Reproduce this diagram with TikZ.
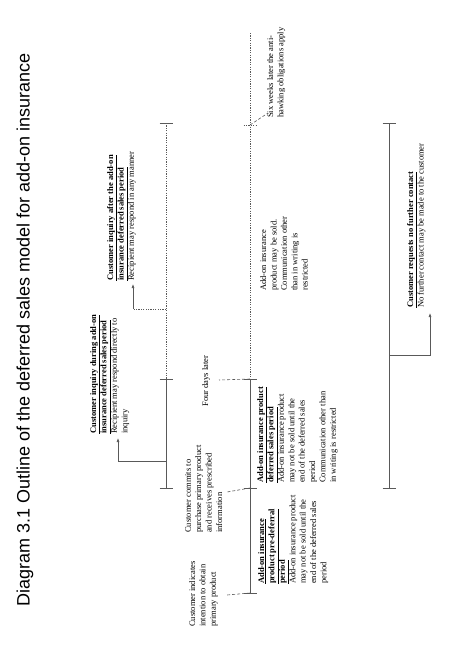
\documentclass[tikz,border=0pt]{standalone}
\usepackage{fontspec}
\setmainfont{Liberation Serif}
\newfontfamily\titlefont{Liberation Sans}
\usetikzlibrary{arrows.meta}
\newcommand{\bu}[1]{\underline{\textbf{#1}}}
\begin{document}
\begin{tikzpicture}[x=1pt,y=-1pt,
  ln/.style={draw=gray!70!black, line width=0.6pt},
  dots/.style={ln, dash pattern=on 1.2pt off 1.2pt},
  lead/.style={ln, dash pattern=on 3pt off 2pt},
  arr/.style={ln, -{Latex[length=4pt,width=3pt]}},
  txt/.style={rotate=90, anchor=north west, inner sep=0pt, align=left,
              font=\fontsize{8.5}{10.4}\selectfont},
]
\useasboundingbox (0,0) rectangle (474,657);
% title
\node[rotate=90, inner sep=0pt, font=\titlefont\fontsize{18}{20}\selectfont] (title) at (25,330)
  {Diagram 3.1 Outline of the deferred sales model for add-on insurance};
% timeline coordinates
\coordinate (a1) at (166,123);
\coordinate (a2) at (166,379);
\coordinate (a3) at (166,488);
\coordinate (b0) at (250,33);
\coordinate (b1) at (250,125);
\coordinate (b2) at (250,379);
\coordinate (b3) at (250,488);
\coordinate (b4) at (250,593);
\coordinate (c1) at (389,123);
\coordinate (c2) at (389,488);
% lines
\draw[dots] (a1) -- (a2);
\draw[ln] (a2) -- (a3);
\draw[dots] (b0) -- (b2);
\draw[ln] (b2) -- (b4);
\draw[ln] (c1) -- (c2);
% ticks
\foreach \p in {a1,a2,a3,b2,b3,b4,c1,c2}
  \draw[ln] ([xshift=-6.5pt]\p) -- ([xshift=6.5pt]\p);
\draw[dots] ([xshift=-6.5pt]b1) -- ([xshift=6.5pt]b1);
% text nodes
\node[txt] (inqd) at (90,434) {\bu{Customer inquiry during add-on}\\
  \bu{insurance deferred sales period}\\
  Recipient may respond directly to\\ inquiry};
\node[txt] (inqa) at (107,281) {\bu{Customer inquiry after the add-on}\\
  \bu{insurance deferred sales period}\\
  Recipient may respond in any manner};
\node[rotate=90, inner sep=0pt, font=\fontsize{8.5}{10.4}\selectfont] (four) at (206,381) {Four days later};
\node[txt] (commit) at (185,533) {Customer commits to\\ purchase primary product\\
  and receives prescribed\\ information};
\node[txt] (intent) at (189,627) {Customer indicates\\ intention to obtain\\ primary product};
\node[txt] (pre) at (258,584) {\bu{Add-on insurance}\\ \bu{product pre-deferral}\\ \bu{period}\\
  Add-on insurance product\\ may not be sold until the\\ end of the deferred sales\\ period};
\node[txt] (def) at (257,483) {\bu{Add-on insurance product}\\ \bu{deferred sales period}\\
  Add-on insurance product\\ may not be sold until the\\ end of the deferred sales\\ period\\
  Communication other than\\ in writing is restricted};
\node[txt] (post) at (260,291) {Add-on insurance\\ product may be sold.\\ Communication other\\
  than in writing is\\ restricted};
\node[txt] (six) at (267,118) {Six weeks later the anti-\\ hawking obligations apply};
\node[txt] (nocon) at (407,308) {\bu{Customer requests no further contact}\\
  No further contact may be made to the customer};
% arrows
\coordinate (ar1) at (166,461);
\coordinate (ar1e) at (118,438);
\draw[arr] (ar1) -| (ar1e);
\coordinate (ar2) at (166,309);
\coordinate (ar2k) at (133,309);
\coordinate (ar2e) at (133,284);
\draw[dots] (ar2) -- (ar2k);
\draw[arr] (ar2k) -- (ar2e);
\coordinate (ar3) at (389,355);
\coordinate (ar3e) at (430,313);
\draw[arr] (ar3) -| (ar3e);
% leaders
\coordinate (l1) at (268,113);
\coordinate (l2) at (219,380);
\coordinate (l3) at (227,492);
\coordinate (l4) at (227,595);
\draw[lead] (b1) -- (l1);
\draw[lead] (b2) -- (l2);
\draw[lead] (b3) -- (l3);
\draw[lead] (b4) -- (l4);
\end{tikzpicture}
\end{document}
